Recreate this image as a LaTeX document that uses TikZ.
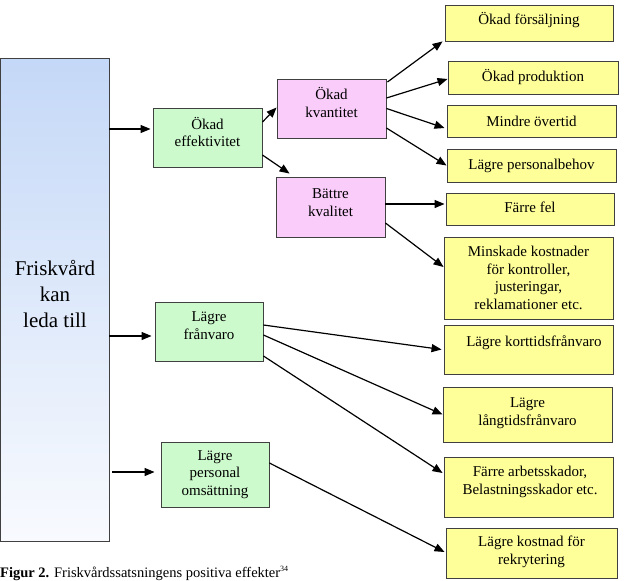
\documentclass[tikz,border=0pt]{standalone}
\usepackage{fontspec}
\setmainfont{Liberation Serif}
\usetikzlibrary{arrows.meta}
\definecolor{grn}{HTML}{CCFACC}
\definecolor{pnk}{HTML}{FACCFA}
\definecolor{yel}{HTML}{FFFF99}
\definecolor{bluetop}{HTML}{C4D8F7}
\definecolor{bluebot}{HTML}{F8FAFE}
\definecolor{edge}{HTML}{404040}
\begin{document}
\begin{tikzpicture}[x=1pt,y=-1pt,
  box/.style={draw=edge, line width=0.9pt, inner sep=0pt, align=center, font=\fontsize{15}{17.5}\selectfont},
  txt/.style={inner sep=0pt, align=center, font=\fontsize{15}{17.5}\selectfont},
  arr/.style={line width=1.2pt, -{Triangle[length=10pt,width=8pt]}}]
\useasboundingbox (0,0) rectangle (624,581);

% big box
\node[draw=edge, line width=0.9pt, top color=bluetop, bottom color=bluebot, minimum width=109pt, minimum height=483pt, inner sep=0pt] (big) at (54.5,299.5) {};
\node[inner sep=0pt, align=center, font=\fontsize{21}{26}\selectfont] (bigt) at (55,294) {Friskvård\\kan\\leda till};

% green boxes
\node[box, fill=grn, minimum width=109pt, minimum height=59pt] (eff) at (207.5,137.5) {};
\node[txt] (efft) at (207.5,132) {Ökad\\effektivitet};
\node[box, fill=grn, minimum width=108pt, minimum height=59pt] (frv) at (209,331.5) {};
\node[txt] (frvt) at (209,325.5) {Lägre\\frånvaro};
\node[box, fill=grn, minimum width=108pt, minimum height=65pt] (pers) at (215,474.5) {Lägre\\personal\\omsättning};

% pink boxes
\node[box, fill=pnk, minimum width=109pt, minimum height=59pt] (kv) at (331.5,108.5) {};
\node[txt] (kvt) at (331.5,102.5) {Ökad\\kvantitet};
\node[box, fill=pnk, minimum width=109pt, minimum height=60pt] (kl) at (330.5,207) {};
\node[txt] (klt) at (330.5,202.5) {Bättre\\kvalitet};

% yellow boxes
\node[box, fill=yel, minimum width=168pt, minimum height=36pt] (y1) at (529,23) {};
\node[txt] (y1t) at (529,20.5) {Ökad försäljning};
\node[box, fill=yel, minimum width=170pt, minimum height=33pt] (y2) at (533,77.5) {Ökad produktion};
\node[box, fill=yel, minimum width=169pt, minimum height=32pt] (y3) at (531.5,121) {Mindre övertid};
\node[box, fill=yel, minimum width=169pt, minimum height=33pt] (y4) at (531.5,165.5) {Lägre personalbehov};
\node[box, fill=yel, minimum width=168pt, minimum height=32pt] (y5) at (530,209) {};
\node[txt] (y5t) at (530,207.5) {Färre fel};
\node[box, fill=yel, minimum width=169pt, minimum height=82pt] (y6) at (528.5,278) {Minskade kostnader\\för kontroller,\\justeringar,\\reklamationer etc.};
\node[box, fill=yel, minimum width=169pt, minimum height=49pt] (y7) at (528.5,349.5) {};
\node[txt] (y7t) at (534,342.5) {Lägre korttidsfrånvaro};
\node[box, fill=yel, minimum width=169pt, minimum height=55pt] (y8) at (527.5,414.5) {};
\node[txt] (y8t) at (527.5,413) {Lägre\\långtidsfrånvaro};
\node[box, fill=yel, minimum width=169pt, minimum height=60pt] (y9) at (528.5,487) {};
\node[txt] (y9t) at (530,482) {Färre arbetsskador,\\Belastningsskador etc.};
\node[box, fill=yel, minimum width=171pt, minimum height=50pt] (y10) at (531.5,553) {};
\node[txt] (y10t) at (531.5,552) {Lägre kostnad för\\rekrytering};

% connectors
\draw[arr] ([yshift=170.5]big.east) -- ([xshift=-2,yshift=8.5]eff.west);
\draw[arr] ([yshift=-36.5]big.east) -- ([xshift=-3,yshift=-4.5]frv.west);
\draw[arr] ([xshift=3,yshift=-172.5]big.east) -- ([xshift=-6,yshift=2.5]pers.west);
\draw[arr] ([yshift=15.5]eff.east) -- ([yshift=1]kv.west);
\draw[arr] ([yshift=-17.5]eff.east) -- ([xshift=14,yshift=3]kl.north west);
\draw[arr] ([xshift=1,yshift=26.5]kv.east) -- ([xshift=-2]y1.south west);
\draw[arr] ([yshift=10.5]kv.east) -- ([yshift=-1.5]y2.west);
\draw[arr] (kv.east) -- ([xshift=-2,yshift=-7]y3.west);
\draw[arr] ([yshift=-19.5]kv.east) -- (y4.west);
\draw[arr] ([yshift=3]kl.east) -- ([xshift=-1,yshift=5]y5.west);
\draw[arr] ([yshift=-16]kl.east) -- ([yshift=11]y6.west);
\draw[arr] ([yshift=6.5]frv.east) -- ([xshift=-2]y7.west);
\draw[arr] ([yshift=-3.5]frv.east) -- (y8.west);
\draw[arr] ([yshift=-24.5]frv.east) -- ([xshift=-1,yshift=14]y9.west);
\draw[arr] ([yshift=11.5]pers.east) -- ([xshift=-1,yshift=1]y10.west);

% caption
\node[anchor=base west, inner sep=0pt, font=\fontsize{14.5}{17}\selectfont] (cap) at (0,577) {\textbf{Figur 2.} Friskvårdssatsningens positiva effekter\textsuperscript{\fontsize{8}{9}\selectfont 34}};
\end{tikzpicture}
\end{document}
